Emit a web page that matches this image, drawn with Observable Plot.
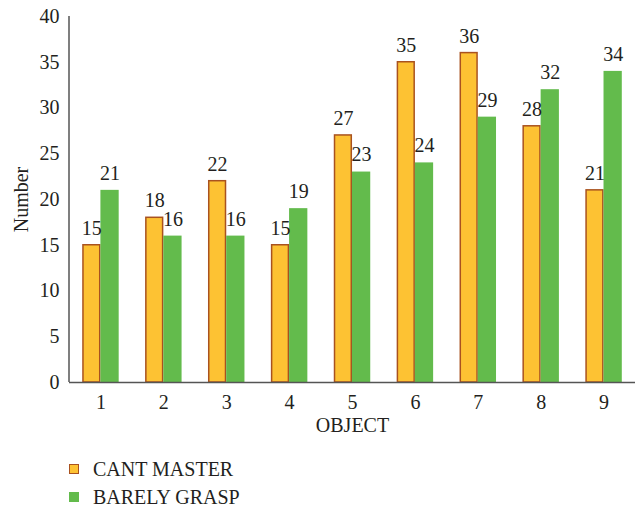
<!DOCTYPE html>
<html>
<head>
<meta charset="utf-8">
<script src="https://cdn.jsdelivr.net/npm/d3@7"></script>
<script src="https://cdn.jsdelivr.net/npm/@observablehq/plot@0.6"></script>
<style>
  body { margin: 0; background: #fff; font-family: "Liberation Serif", "DejaVu Serif", serif; color: #231f20; overflow: hidden; }
  #legend { padding-left: 69px; margin-top: 10px; }
  .item { display: flex; align-items: center; height: 28px; font-size: 20px; line-height: 1; }
  .sw { width: 10px; height: 10px; box-sizing: border-box; margin-right: 14px; }
</style>
</head>
<body>
<div id="chart"></div>
<div id="legend"></div>
<script>
const objects = ["1", "2", "3", "4", "5", "6", "7", "8", "9"];
const cantMaster = [15, 18, 22, 15, 27, 35, 36, 28, 21];
const barelyGrasp = [21, 16, 16, 19, 23, 24, 29, 32, 34];
const seriesNames = ["CANT MASTER", "BARELY GRASP"];
const yTicks = [0, 5, 10, 15, 20, 25, 30, 35, 40];

const fills = ["#fdc233", "#63bb4c"];
const strokes = ["#a9521f", "none"];

const rowsA = objects.map((o, i) => ({object: o, value: cantMaster[i]}));
const rowsB = objects.map((o, i) => ({object: o, value: barelyGrasp[i]}));

const font = "Liberation Serif";
const fs = 20;
const half = 18.2;

const chart = Plot.plot({
  width: 640,
  height: 445,
  marginLeft: 69,
  marginRight: 5,
  marginTop: 16,
  marginBottom: 63,
  style: {fontFamily: font, fontSize: fs + "px", color: "#231f20", background: "#fff"},
  x: {domain: objects, paddingInner: 0.42, paddingOuter: 0.21, round: false, label: null},
  y: {domain: [0, 40], label: null},
  marks: [
    Plot.axisX({tickSize: 0, tickPadding: 12, fontSize: fs, label: null}),
    Plot.axisY({ticks: yTicks, tickSize: 0, tickPadding: 10, fontSize: fs, label: null}),
    Plot.barY(rowsA, {x: "object", y: "value", fill: fills[0], stroke: strokes[0], strokeWidth: 1.5, insetRight: half + 0.75, insetLeft: 0.75}),
    Plot.barY(rowsB, {x: "object", y: "value", fill: fills[1], insetLeft: half}),
    Plot.text(rowsA, {x: "object", y: "value", text: d => String(d.value), dx: -half / 2, dy: -17, fontSize: fs, fill: "#231f20"}),
    Plot.text(rowsB, {x: "object", y: "value", text: d => String(d.value), dx: half / 2, dy: -17, fontSize: fs, fill: "#231f20"}),
    Plot.ruleY([0], {stroke: "#555", strokeWidth: 1.5}),
    Plot.text(["Number"], {frameAnchor: "left", dx: -48, rotate: -90, textAnchor: "middle", fontSize: fs, fill: "#231f20"}),
    Plot.text(["OBJECT"], {frameAnchor: "bottom", dy: 49, textAnchor: "middle", fontSize: fs, fill: "#231f20"})
  ]
});
document.getElementById("chart").append(chart);

// y axis line along the left edge of the frame
d3.select(chart).append("line")
  .attr("x1", 69).attr("x2", 69).attr("y1", 16).attr("y2", 382)
  .attr("stroke", "#555").attr("stroke-width", 1.5);

const legend = d3.select("#legend");
seriesNames.forEach((name, i) => {
  const item = legend.append("div").attr("class", "item");
  item.append("div").attr("class", "sw")
    .style("background", fills[i])
    .style("border", strokes[i] === "none" ? "none" : `1.5px solid ${strokes[i]}`);
  item.append("span").text(name);
});
</script>
</body>
</html>
